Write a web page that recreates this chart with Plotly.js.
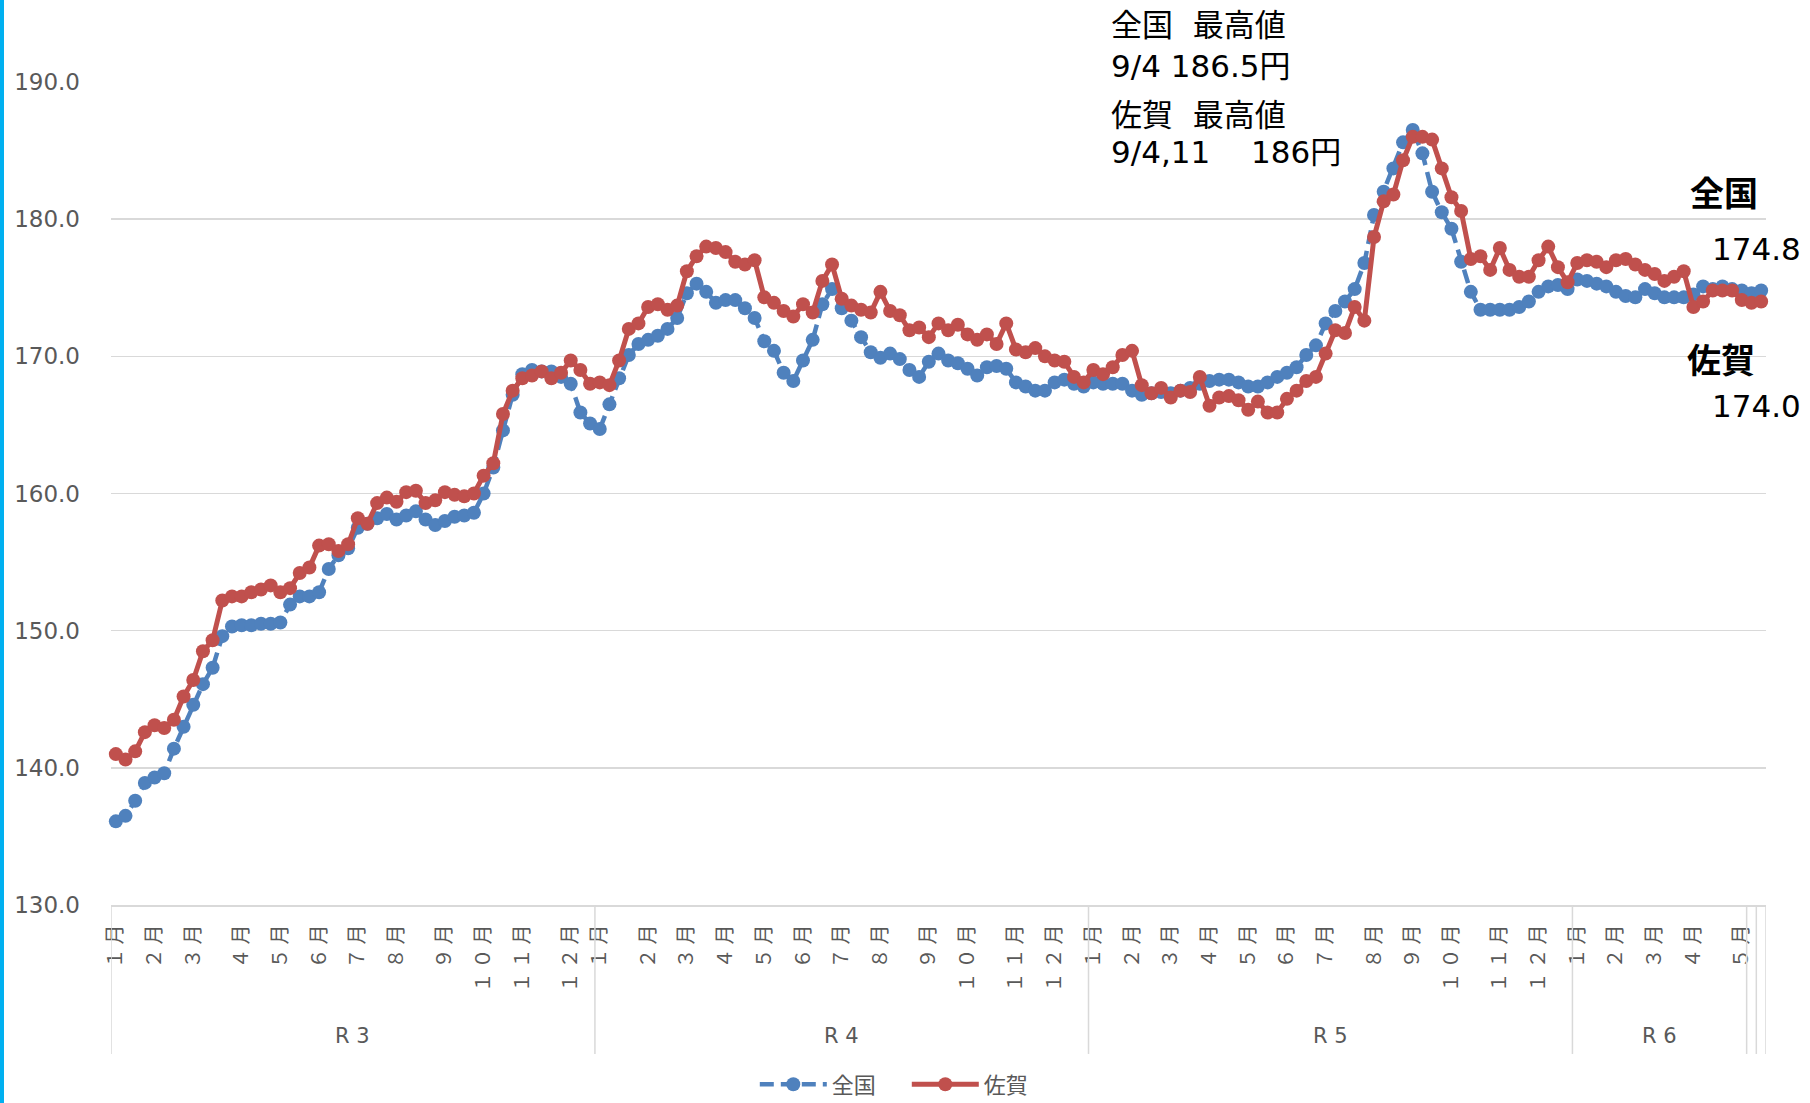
<!DOCTYPE html>
<html><head><meta charset="utf-8">
<script src="https://cdn.plot.ly/plotly-3.0.1.min.js"></script>
<style>
html,body{margin:0;padding:0;background:#fff;overflow:hidden}
#bar{position:absolute;left:0;top:0;width:4px;height:1103px;background:#00b0f0;z-index:5}
#chart{width:1810px;height:1103px}
</style></head><body>
<div id="bar"></div><div id="chart"></div>
<script>
// ---- categories ----
const yearLabels = ['R 3', 'R 4', 'R 5', 'R 6'];
const monthLabels = ['1月','2月','3月','4月','5月','6月','7月','8月','9月','10月','11月','12月'];
const weeksR3 = [4,4,5,4,4,4,4,5,4,4,5,3];
const weeksR4 = [5,4,4,4,4,4,4,5,4,5,4,4];
const weeksR5 = [4,4,4,4,4,4,5,4,4,5,4,4];
const weeksR6 = [4,4,4,5,1];
const trailingWeeks = [1,1]; // last two weeks, each in its own unlabeled group

// ---- series values (円/L) ----
const national = [
136.1,136.5,137.6,138.9,139.3,139.6,141.4,143.0,144.6,146.1,
147.3,149.6,150.3,150.4,150.4,150.5,150.5,150.6,151.9,152.5,
152.5,152.8,154.5,155.5,156.0,157.5,157.8,158.2,158.5,158.1,
158.4,158.7,158.1,157.7,158.0,158.3,158.4,158.6,160.0,161.9,
164.6,167.2,168.7,169.0,168.9,168.9,168.5,168.0,165.9,165.1,
164.7,166.5,168.4,170.1,170.9,171.2,171.5,172.0,172.8,174.6,
175.3,174.7,173.9,174.1,174.1,173.5,172.8,171.1,170.4,168.8,
168.2,169.7,171.2,173.8,174.9,173.5,172.6,171.4,170.3,169.9,
170.2,169.8,169.0,168.5,169.6,170.2,169.7,169.5,169.1,168.6,
169.2,169.3,169.1,168.1,167.8,167.5,167.5,168.1,168.3,168.0,
167.8,168.1,168.0,168.0,168.0,167.5,167.2,167.3,167.4,167.3,
167.5,167.7,168.0,168.2,168.3,168.3,168.1,167.8,167.8,168.1,
168.5,168.8,169.2,170.1,170.8,172.4,173.3,174.0,174.9,176.8,
180.3,182.0,183.7,185.6,186.5,184.8,182.0,180.5,179.3,176.9,
174.7,173.4,173.4,173.4,173.4,173.6,174.0,174.7,175.1,175.2,
174.9,175.6,175.5,175.3,175.1,174.7,174.4,174.3,174.9,174.6,
174.3,174.3,174.3,174.5,175.1,174.9,175.1,174.9,174.8,174.6,
174.8];
const saga = [
141.0,140.6,141.2,142.6,143.1,142.9,143.5,145.2,146.4,148.5,
149.3,152.2,152.5,152.5,152.8,153.0,153.3,152.8,153.1,154.2,
154.6,156.2,156.3,155.8,156.3,158.2,157.8,159.3,159.7,159.4,
160.1,160.2,159.3,159.5,160.1,159.9,159.8,160.0,161.3,162.2,
165.8,167.5,168.4,168.6,168.9,168.4,168.8,169.7,169.0,168.0,
168.1,167.9,169.7,172.0,172.4,173.6,173.8,173.4,173.7,176.2,
177.3,178.0,177.9,177.6,176.9,176.7,177.0,174.3,173.9,173.3,
172.9,173.8,173.2,175.5,176.7,174.2,173.7,173.4,173.2,174.7,
173.3,173.0,171.9,172.1,171.4,172.4,171.9,172.3,171.6,171.2,
171.6,170.9,172.4,170.5,170.3,170.6,170.0,169.7,169.6,168.5,
168.1,169.0,168.7,169.2,170.1,170.4,167.9,167.3,167.7,167.0,
167.5,167.4,168.5,166.4,167.0,167.1,166.8,166.1,166.7,165.9,
165.9,166.9,167.5,168.2,168.5,170.2,171.9,171.7,173.6,172.6,
178.7,181.3,181.8,184.3,186.0,186.0,185.8,183.7,181.6,180.6,
177.1,177.3,176.3,177.9,176.3,175.8,175.8,177.0,178.0,176.5,
175.4,176.8,177.0,176.9,176.5,177.0,177.1,176.7,176.3,176.0,
175.5,175.8,176.2,173.6,174.0,174.8,174.8,174.8,174.1,173.9,
174.0];

// ---- build category positions ----
const groupsWeeks = [weeksR3, weeksR4, weeksR5, weeksR6];
const tickVals = [], tickText = [], dividers = [-0.5], groupCenters = [];
let idx = 0;
const fw = s => s.split('').map(c => /[0-9]/.test(c) ? String.fromCharCode(c.charCodeAt(0) + 0xFEE0) : c).join('\u2009');
groupsWeeks.forEach((wk, g) => {
  const start = idx;
  wk.forEach((n, m) => { tickVals.push(idx); tickText.push(fw(monthLabels[m])); idx += n; });
  dividers.push(idx - 0.5);
  groupCenters.push({x: (start + idx - 1) / 2, label: yearLabels[g]});
});
trailingWeeks.forEach(n => { idx += n; dividers.push(idx - 0.5); });
const xs = national.map((_, i) => i);

const gray = '#595959';
const latin = 'DejaVu Sans, Noto Sans CJK JP, sans-serif';
const cjk = 'Noto Sans CJK JP, DejaVu Sans, sans-serif';

const traces = [
  {x: xs, y: national, name: '全国', type: 'scatter', mode: 'lines+markers', cliponaxis: false,
   line: {color: '#4F81BD', width: 4.5, dash: '14px,7px'}, marker: {color: '#4F81BD', size: 14}},
  {x: xs, y: saga, name: '佐賀', type: 'scatter', mode: 'lines+markers', cliponaxis: false,
   line: {color: '#C0504D', width: 5}, marker: {color: '#C0504D', size: 14}}
];

const shapes = dividers.map(d => ({type: 'line', xref: 'x', yref: 'paper', x0: d, x1: d, y0: 0, y1: -0.181,
  line: {color: '#d9d9d9', width: 1.5}}));

const annotations = groupCenters.map(g => ({xref: 'x', yref: 'paper', x: g.x, y: -0.159, text: g.label,
  showarrow: false, font: {family: latin, size: 21, color: gray}, xanchor: 'center', yanchor: 'middle'}));

const note = (text, x, y, size, bold, xanchor) => ({xref: 'paper', yref: 'paper', x: x, y: y,
  text: bold ? '<b>' + text + '</b>' : text, showarrow: false, xanchor: xanchor, yanchor: 'middle',
  font: {family: latin, size: size, color: '#000'}});
annotations.push(
  note('全国\u00a0\u00a0最高値', 0.6030, 1.0692, 31, false, 'left'),
  note('9/4 186.5円', 0.6030, 1.0194, 31, false, 'left'),
  note('佐賀\u00a0\u00a0最高値', 0.6030, 0.9599, 31, false, 'left'),
  note('9/4,11\u3000\u00a0186円', 0.6030, 0.9150, 31, false, 'left'),
  note('全国', 0.9964, 0.8639, 34, true, 'right'),
  note('174.8', 1.0224, 0.797, 31, false, 'right'),
  note('佐賀', 0.9946, 0.661, 34, true, 'right'),
  note('174.0', 1.0224, 0.6063, 31, false, 'right')
);

const layout = {
  width: 1810, height: 1103,
  margin: {l: 111, r: 44, t: 82, b: 198, autoexpand: false},
  paper_bgcolor: '#fff', plot_bgcolor: '#fff',
  showlegend: true,
  legend: {orientation: 'h', x: 0.389, xanchor: 'left', y: -0.218, yanchor: 'middle',
    font: {family: cjk, size: 22, color: gray}, itemwidth: 67, entrywidth: 70, entrywidthmode: 'pixels',
    traceorder: 'normal'},
  xaxis: {type: 'linear', range: [-0.5, 170.5], tickmode: 'array', tickvals: tickVals, ticktext: tickText,
    tickangle: -90, tickfont: {family: cjk, size: 20, color: gray}, showgrid: false, zeroline: false,
    showline: true, linecolor: '#d9d9d9', linewidth: 1.5, ticks: '', ticklabelstandoff: 10, automargin: false, fixedrange: true},
  yaxis: {range: [130, 190], dtick: 10, tick0: 130, tickformat: '.1f', gridcolor: '#d9d9d9', gridwidth: 1.5,
    zeroline: false, showline: false, ticks: '', tickfont: {family: latin, size: 23, color: gray},
    ticklabelstandoff: 30, automargin: false, fixedrange: true},
  shapes: shapes,
  annotations: annotations
};

Plotly.newPlot('chart', traces, layout, {displayModeBar: false, staticPlot: true});
</script></body></html>
